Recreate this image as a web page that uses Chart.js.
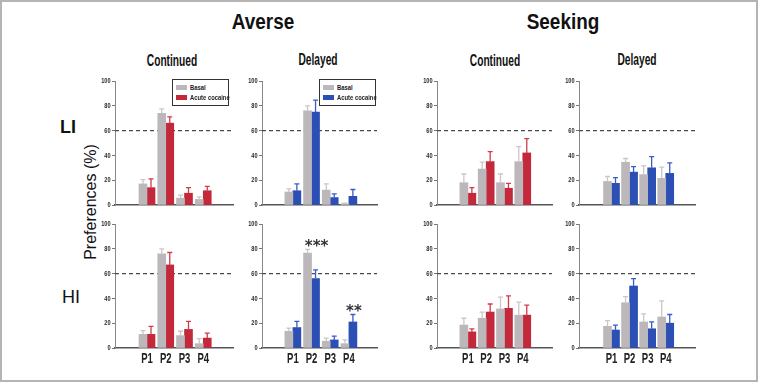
<!DOCTYPE html>
<html>
<head>
<meta charset="utf-8">
<script src="https://cdn.jsdelivr.net/npm/chart.js@4.4.1/dist/chart.umd.min.js"></script>
<style>
  body { margin: 0; width: 758px; height: 382px; background: #fff; position: relative; overflow: hidden;
         font-family: "Liberation Sans", Arial, sans-serif; }
  .frame { position: absolute; left: 0; top: 0; width: 754px; height: 378px; border: 2px solid #b4b4b4; }
  .t { position: absolute; white-space: nowrap; transform: translate(-50%, -50%); color: #111; }
  .big { font-weight: bold; font-size: 22px; transform: translate(-50%, -50%) scaleX(0.86); }
  .sub { font-weight: bold; font-size: 17px; transform: translate(-50%, -50%) scaleX(0.6); }
  .row { font-size: 18px; }
  .ylab { font-size: 16px; transform: translate(-50%, -50%) rotate(-90deg); }
  canvas { position: absolute; }
  .legend { position: absolute; border: 1.2px solid #333; background: #fff; box-sizing: border-box;
            font: bold 7.5px "Liberation Sans", Arial, sans-serif; color: #222; padding: 5px 0 0 3px; }
  .legend div { height: 10px; line-height: 6px; white-space: nowrap; }
  .legend span.sw { display: inline-block; width: 11px; height: 5px; margin-right: 3px; vertical-align: top; }
  .legend span.tx { display: inline-block; transform: scaleX(0.78); transform-origin: 0 0; vertical-align: top; }
</style>
</head>
<body>
<div class="frame"></div>

<div class="t big" style="left:263px;top:22px">Averse</div>
<div class="t big" style="left:563px;top:22px">Seeking</div>
<div class="t sub" style="left:172px;top:61px">Continued</div>
<div class="t sub" style="left:318px;top:60px">Delayed</div>
<div class="t sub" style="left:495px;top:61px">Continued</div>
<div class="t sub" style="left:637px;top:60px">Delayed</div>
<div class="t row" style="left:68px;top:127px;font-weight:bold">LI</div>
<div class="t row" style="left:71px;top:297px">HI</div>
<div class="t ylab" style="left:91px;top:202px">Preferences (%)</div>

<div id="charts"></div>

<script>
const periods = ["P1", "P2", "P3", "P4"];
const seriesNames = ["Basal", "Acute cocaine"];
const yTicks = [0, 20, 40, 60, 80, 100];
const threshold = 60;

// Averse - Continued
const avContLI = [17, 74, 5.5, 4.5];
const avContLIErr = [3.5, 3.5, 2.5, 2];
const avContLICoc = [14, 66, 9.5, 11.5];
const avContLICocErr = [7, 5, 4.5, 3.5];
const avContHI = [11, 76, 10, 3.5];
const avContHIErr = [3, 4, 3.5, 4];
const avContHICoc = [11, 67, 15, 8];
const avContHICocErr = [6.5, 10, 6.5, 4];

// Averse - Delayed
const avDelLI = [10.5, 76, 12, 1];
const avDelLIErr = [2.5, 4, 5, 0.5];
const avDelLICoc = [11.5, 75, 6, 7];
const avDelLICocErr = [5.5, 9.5, 3, 5.5];
const avDelHI = [13.5, 76.5, 5.5, 3.5];
const avDelHIErr = [2.5, 3, 2.5, 3];
const avDelHICoc = [16.5, 56, 6.5, 21];
const avDelHICocErr = [5, 7, 3, 6];

// Seeking - Continued
const skContLI = [18, 29, 18, 35];
const skContLIErr = [7, 5.5, 7, 12];
const skContLICoc = [9.5, 35, 13.5, 42];
const skContLICocErr = [4.5, 8, 4, 11.5];
const skContHI = [18.5, 24, 31.5, 26.5];
const skContHIErr = [5.5, 5, 9.5, 10.5];
const skContHICoc = [13, 29, 32, 26.5];
const skContHICocErr = [2.5, 6.5, 10, 8];

// Seeking - Delayed
const skDelLI = [19, 34.5, 24.5, 21.5];
const skDelLIErr = [4, 3, 7, 9];
const skDelLICoc = [17.5, 26.5, 30, 25.5];
const skDelLICocErr = [4.5, 4.5, 9, 8.5];
const skDelHI = [17.5, 36.5, 21, 25];
const skDelHIErr = [4.5, 5, 6.5, 13];
const skDelHICoc = [14.5, 50, 15.5, 20];
const skDelHICocErr = [4, 6, 5.5, 7];

// significance marks (panel, period index, text)
const marks = [
  { panel: "avDelHI", index: 1, text: "***" },
  { panel: "avDelHI", index: 3, text: "**" },
];

const GRAY = "#bcb7ba", GRAY_ERR = "#cbc6c9";
const RED = "#c3293a", RED_ERR = "#cf3c4b";
const BLUE = "#2c4fb5", BLUE_ERR = "#3b5cc4";
const FONT = '"Liberation Sans", Arial, sans-serif';

const LEFT = 30, PT = 6, PR = 3;

const panels = [
  { id: "avContLI", b: avContLI, be: avContLIErr, c: avContLICoc, ce: avContLICocErr, col: RED, ecol: RED_ERR, row: 0, ax: 115, end: 233, c1: 138, step: 25, legend: true },
  { id: "avDelLI", b: avDelLI, be: avDelLIErr, c: avDelLICoc, ce: avDelLICocErr, col: BLUE, ecol: BLUE_ERR, row: 0, ax: 262, end: 377, c1: 284, step: 24.9, legend: true },
  { id: "skContLI", b: skContLI, be: skContLIErr, c: skContLICoc, ce: skContLICocErr, col: RED, ecol: RED_ERR, row: 0, ax: 437, end: 552, c1: 459, step: 24.4 },
  { id: "skDelLI", b: skDelLI, be: skDelLIErr, c: skDelLICoc, ce: skDelLICocErr, col: BLUE, ecol: BLUE_ERR, row: 0, ax: 579, end: 695, c1: 603, step: 24.1 },
  { id: "avContHI", b: avContHI, be: avContHIErr, c: avContHICoc, ce: avContHICocErr, col: RED, ecol: RED_ERR, row: 1, ax: 115, end: 233, c1: 138, step: 25 },
  { id: "avDelHI", b: avDelHI, be: avDelHIErr, c: avDelHICoc, ce: avDelHICocErr, col: BLUE, ecol: BLUE_ERR, row: 1, ax: 262, end: 377, c1: 284, step: 24.9 },
  { id: "skContHI", b: skContHI, be: skContHIErr, c: skContHICoc, ce: skContHICocErr, col: RED, ecol: RED_ERR, row: 1, ax: 437, end: 552, c1: 459, step: 24.4 },
  { id: "skDelHI", b: skDelHI, be: skDelHIErr, c: skDelHICoc, ce: skDelHICocErr, col: BLUE, ecol: BLUE_ERR, row: 1, ax: 579, end: 695, c1: 603, step: 24.1 },
];
const rowTop = [81, 224];
const plotH = 124;

// dashed line at 60 %
const refLine = {
  id: "refLine",
  beforeDatasetsDraw(chart) {
    const { ctx, chartArea, scales } = chart;
    const y = scales.y.getPixelForValue(threshold);
    ctx.save();
    ctx.strokeStyle = "#4a4a4a";
    ctx.lineWidth = 1.2;
    ctx.setLineDash([4, 3]);
    ctx.beginPath();
    ctx.moveTo(chartArea.left, y);
    ctx.lineTo(chartArea.right, y);
    ctx.stroke();
    ctx.restore();
  },
};

// upper error whiskers
const errBars = {
  id: "errBars",
  afterDatasetsDraw(chart) {
    const { ctx, scales } = chart;
    chart.data.datasets.forEach((ds, di) => {
      const meta = chart.getDatasetMeta(di);
      meta.data.forEach((bar, i) => {
        const top = scales.y.getPixelForValue(ds.data[i].y + ds.err[i]);
        ctx.save();
        ctx.strokeStyle = ds.errColor;
        ctx.lineWidth = 1.3;
        ctx.beginPath();
        ctx.moveTo(bar.x, bar.y);
        ctx.lineTo(bar.x, top);
        ctx.moveTo(bar.x - 2.5, top);
        ctx.lineTo(bar.x + 2.5, top);
        ctx.stroke();
        ctx.restore();
      });
    });
  },
};

// narrow tick labels (the figure uses a condensed face)
const narrowLabels = {
  id: "narrowLabels",
  afterDraw(chart) {
    const { ctx, chartArea, scales } = chart;
    ctx.save();
    ctx.fillStyle = "#2a2a2a";
    ctx.font = "bold 8px " + FONT;
    ctx.textAlign = "right";
    ctx.textBaseline = "middle";
    yTicks.forEach(v => {
      ctx.save();
      ctx.translate(chartArea.left - 4.5, scales.y.getPixelForValue(v));
      ctx.scale(0.7, 1);
      ctx.fillText(String(v), 0, 0);
      ctx.restore();
    });
    if (chart.options.showPeriods) {
      ctx.fillStyle = "#222";
      ctx.font = "bold 14px " + FONT;
      ctx.textAlign = "center";
      ctx.textBaseline = "top";
      periods.forEach((p, i) => {
        ctx.save();
        ctx.translate(scales.x.getPixelForValue(i + 1), chartArea.bottom + 4);
        ctx.scale(0.68, 1);
        ctx.fillText(p, 0, 0);
        ctx.restore();
      });
    }
    ctx.restore();
  },
};

// significance stars
const stars = {
  id: "stars",
  afterDraw(chart) {
    const { ctx, scales } = chart;
    marks.filter(m => m.panel === chart.options.panelId).forEach(m => {
      const ds = chart.data.datasets;
      const hi = Math.max(...ds.map(d => d.data[m.index].y + d.err[m.index]));
      const bar = chart.getDatasetMeta(1).data[m.index];
      const y = scales.y.getPixelForValue(hi + 6);
      ctx.save();
      ctx.fillStyle = "#333";
      ctx.font = "bold 15px 'DejaVu Sans', sans-serif";
      ctx.textAlign = "center";
      ctx.textBaseline = "alphabetic";
      ctx.fillText(m.text, bar.x + 1, y + 9);
      ctx.restore();
    });
  },
};

const holder = document.getElementById("charts");

panels.forEach(p => {
  const bottom = p.row === 1 ? 24 : 4;
  const L = p.end - p.ax;
  const cv = document.createElement("canvas");
  cv.width = LEFT + L + PR;
  cv.height = PT + plotH + bottom;
  cv.style.left = (p.ax - LEFT) + "px";
  cv.style.top = (rowTop[p.row] - PT) + "px";
  holder.appendChild(cv);

  const xmin = 1 - (p.c1 - p.ax) / p.step;
  const xmax = xmin + L / p.step;

  new Chart(cv, {
    type: "bar",
    data: {
      datasets: [
        { label: seriesNames[0], data: p.b.map((v, i) => ({ x: i + 1, y: v })), err: p.be,
          backgroundColor: GRAY, errColor: GRAY_ERR },
        { label: seriesNames[1], data: p.c.map((v, i) => ({ x: i + 1, y: v })), err: p.ce,
          backgroundColor: p.col, errColor: p.ecol },
      ],
    },
    options: {
      panelId: p.id,
      showPeriods: p.row === 1,
      responsive: false,
      animation: false,
      events: [],
      layout: { autoPadding: false, padding: { top: PT, right: PR, left: 0, bottom: 0 } },
      datasets: { bar: { barThickness: 8, borderWidth: 0 } },
      plugins: { legend: { display: false }, tooltip: { enabled: false } },
      scales: {
        x: {
          type: "linear",
          min: xmin,
          max: xmax,
          afterBuildTicks: s => { s.ticks = periods.map((_, i) => ({ value: i + 1 })); },
          afterFit: s => { s.height = bottom; },
          grid: { display: true, drawOnChartArea: false, drawTicks: false },
          border: { color: "#555", width: 1.6 },
          ticks: { display: false },
        },
        y: {
          min: 0,
          max: 100,
          afterBuildTicks: s => { s.ticks = yTicks.map(v => ({ value: v })); },
          afterFit: s => { s.width = LEFT; },
          grid: { drawOnChartArea: false, tickLength: 3, color: "#777" },
          border: { color: "#888", width: 1 },
          ticks: { display: false },
        },
      },
    },
    plugins: [refLine, errBars, narrowLabels, stars],
  });

  if (p.legend) {
    const lg = document.createElement("div");
    lg.className = "legend";
    lg.style.left = (p.ax + 57) + "px";
    lg.style.top = "79px";
    lg.style.width = "57px";
    lg.style.height = "27px";
    [GRAY, p.col].forEach((c, k) => {
      const r = document.createElement("div");
      r.innerHTML = '<span class="sw" style="background:' + c + '"></span><span class="tx">' + seriesNames[k] + "</span>";
      lg.appendChild(r);
    });
    holder.appendChild(lg);
  }
});
</script>
</body>
</html>
